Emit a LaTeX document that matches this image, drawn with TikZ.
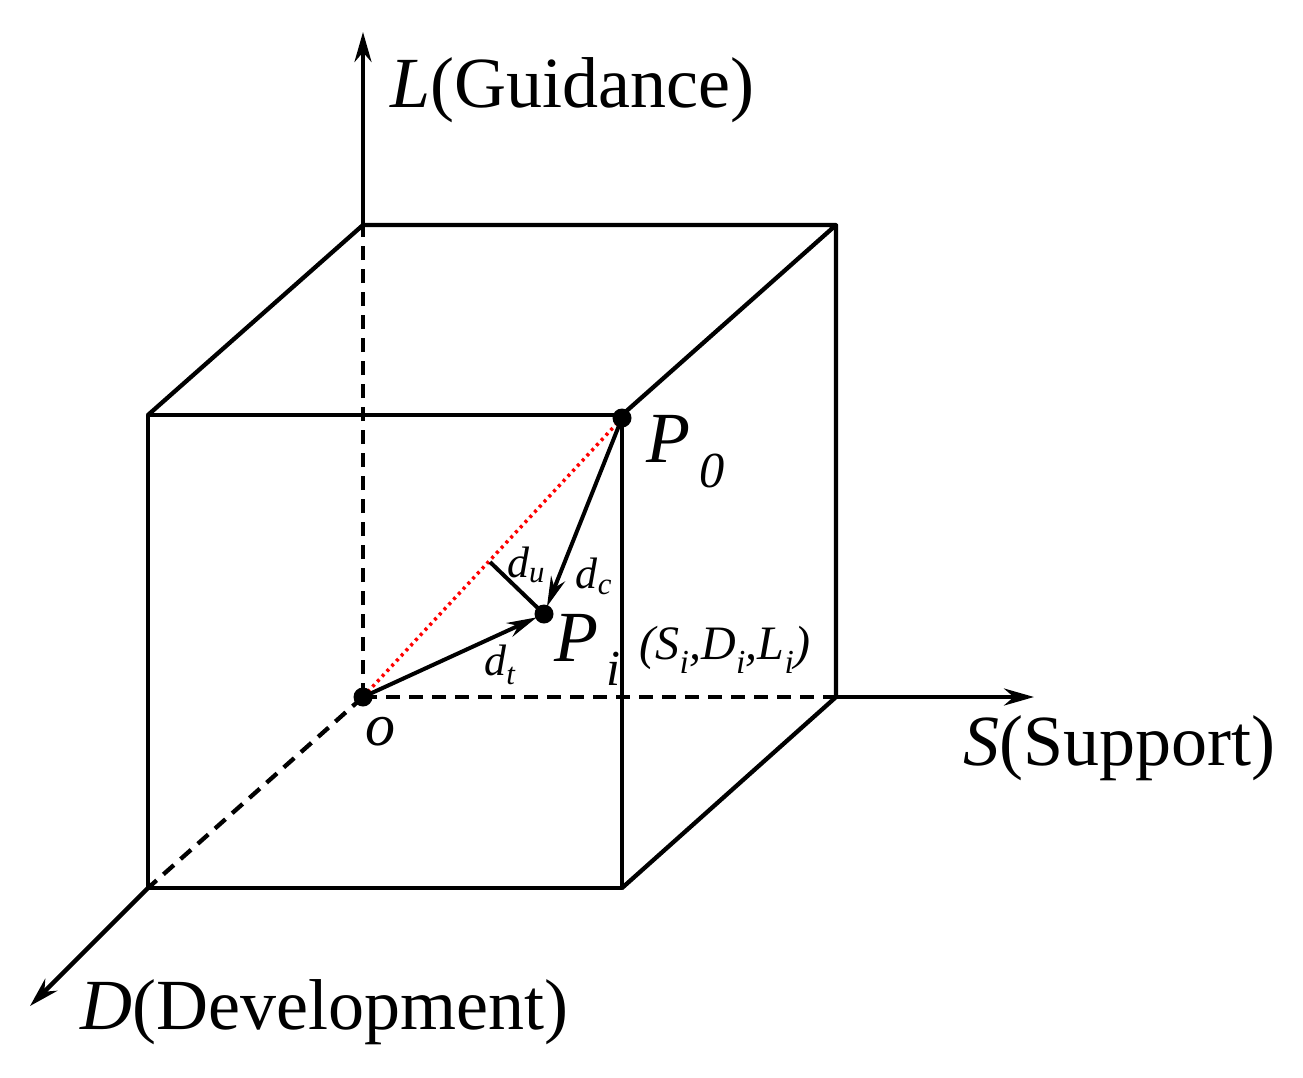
\documentclass[tikz,border=0pt]{standalone}
\usepackage{fontspec}
\setmainfont{Liberation Serif}
\usetikzlibrary{arrows.meta}
\begin{document}
\begin{tikzpicture}[x=1pt,y=-1pt,line width=4.3pt,
  ax/.style={-{Stealth[length=30pt,width=17pt]}},
  ar/.style={-{Stealth[length=30pt,width=15pt]},line width=4pt},
  dsh/.style={dash pattern=on 14pt off 9pt},
  big/.style={font=\fontsize{72}{80}\selectfont},
  mid/.style={font=\fontsize{60}{70}\selectfont\itshape},
  sm/.style={font=\fontsize{44}{50}\selectfont\itshape}]
\useasboundingbox (0,0) rectangle (1303,1077);
\coordinate (O) at (363,697);
\coordinate (BTL) at (363,225); \coordinate (BTR) at (836,225); \coordinate (BBR) at (836,697);
\coordinate (FTL) at (148,415); \coordinate (FTR) at (622,415);
\coordinate (FBL) at (148,888); \coordinate (FBR) at (622,888);
\coordinate (Ltip) at (363,32); \coordinate (Stip) at (1034,697); \coordinate (Dtip) at (30,1006);
\coordinate (P0) at (622,418); \coordinate (Pi) at (544,614);
\coordinate (F) at (490,562);
% cube
\draw[line join=round] (FTL) -- (FTR) -- (FBR) -- (FBL) -- cycle;
\draw[line join=round] (FTL) -- (BTL) -- (BTR) -- (FTR);
\draw[line join=round] (BTR) -- (BBR) -- (FBR);
\draw[dsh] (O) -- (BTL);
\draw[dsh] (O) -- (BBR);
\draw[dsh] (O) -- (FBL);
\draw[ax] (BTL) -- (Ltip);
\draw[ax] (BBR) -- (Stip);
\draw[ax] (FBL) -- (Dtip);
% vectors
\draw[red,line width=3.5pt,dash pattern=on 3pt off 4pt] (O) -- (P0);
\draw[ar,shorten >=8pt] (P0) -- (Pi);
\draw[ar,shorten >=8pt] (O) -- (Pi);
\draw[line width=4pt,shorten >=6pt] (F) -- (Pi);
\fill (O) circle (9.5pt); \fill (P0) circle (9.5pt); \fill (Pi) circle (9.5pt);
% labels
\node[big,anchor=west] (lL) at (385,90) {\textit{L}(Guidance)};
\node[big,anchor=west] (lS) at (958,748) {\textit{S}(Support)};
\node[big,anchor=west] (lD) at (75,1012) {\textit{D}(Development)};
\node[font=\fontsize{72}{80}\selectfont\itshape] (lP0) at (686,452) {P\textsubscript{\,0}};
\node[font=\fontsize{72}{80}\selectfont\itshape] (lPi) at (588,650) {P\textsubscript{\,i}};
\node[sm,font=\fontsize{48}{54}\selectfont\itshape] (lc) at (725,650) {(S\textsubscript{i},D\textsubscript{i},L\textsubscript{i})};
\node[mid] (lo) at (380,732) {o};
\node[sm] (du) at (526,565) {d\textsubscript{u}};
\node[sm] (dc) at (594,576) {d\textsubscript{c}};
\node[sm] (dt) at (500,665) {d\textsubscript{t}};
\end{tikzpicture}
\end{document}
